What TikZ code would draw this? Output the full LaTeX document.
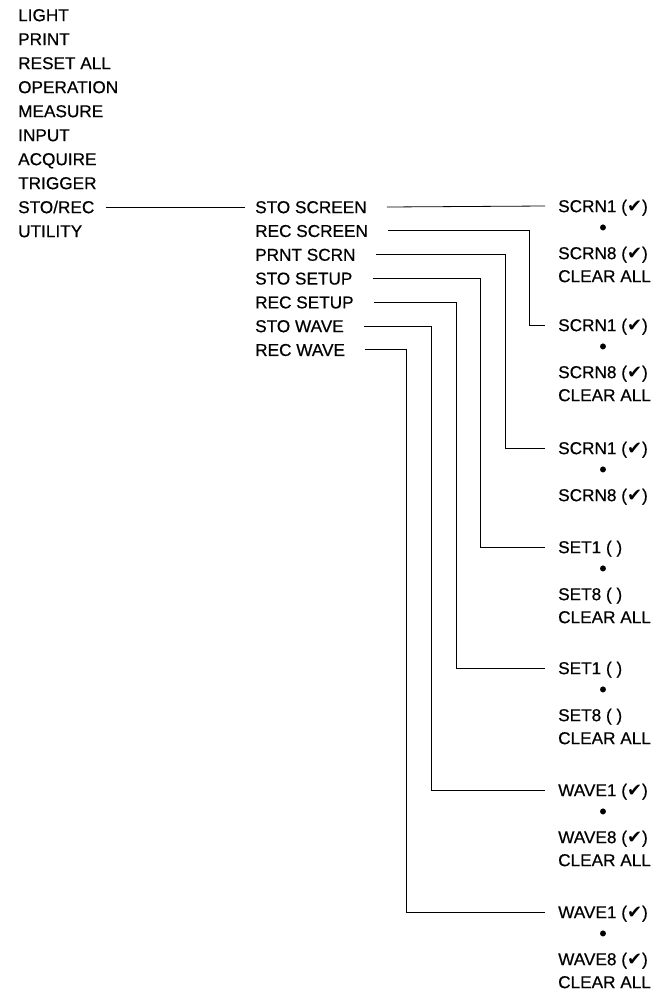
\documentclass[tikz,border=0pt]{standalone}
\usepackage{fontspec}
\setmainfont{Liberation Sans}
\newfontfamily\menufont[FakeBold=0.5]{Liberation Sans}
\newfontfamily\symfont{DejaVu Sans}
\usetikzlibrary{calc}
\newcommand{\chk}{({\symfont\fontsize{18}{18}\selectfont\char"2714})}

\begin{document}
\begin{tikzpicture}[x=1pt,y=-1pt,
    lbl/.style={anchor=west,inner sep=0pt,text height=12.3pt,text depth=0pt,font=\menufont\fontsize{17.2}{20}\selectfont},
    dot/.style={inner sep=0pt,font=\menufont\fontsize{21}{21}\selectfont},
    wire/.style={line width=0.8pt}]
  \useasboundingbox (0,0) rectangle (670,994);
  % Hauptmenue
  \foreach \t [count=\i] in {LIGHT,PRINT,RESET ALL,OPERATION,MEASURE,INPUT,ACQUIRE,TRIGGER,STO/REC,UTILITY}
    \node[lbl] (m\i) at (18,{15+24*(\i-1)}) {\t};
  % Untermenue STO/REC
  \foreach \t [count=\j] in {STO SCREEN,REC SCREEN,PRNT SCRN,STO SETUP,REC SETUP,STO WAVE,REC WAVE}
    \node[lbl] (s\j) at (255,{207+23.8*(\j-1)}) {\t};
  % Speicherplaetze
  \foreach \y/\a/\b/\c [count=\k] in {206/SCRN1 \chk/SCRN8 \chk/1,325/SCRN1 \chk/SCRN8 \chk/1,448/SCRN1 \chk/SCRN8 \chk/0,
      547/SET1 ( )/SET8 ( )/1,668/SET1 ( )/SET8 ( )/1,790/WAVE1 \chk/WAVE8 \chk/1,912/WAVE1 \chk/WAVE8 \chk/1}{
    \node[lbl] (a\k) at (558,\y) {\a};
    \node[dot] (b\k) at (603,{\y+23.5}) {•};
    \node[lbl] (c\k) at (558,{\y+47}) {\b};
    \ifnum\c=1 \node[lbl] (d\k) at (558,{\y+70}) {CLEAR ALL}; \fi
  }
  % Verbindungen
  \draw[wire] ([xshift=11pt]m9.east) -- ([xshift=-10pt]s1.west);
  \draw[wire] ([xshift=20pt]s1.east) -- ([xshift=-13pt]a1.west);
  \foreach \j/\vx in {2/529,3/505,4/480,5/456,6/431,7/406}{
    \coordinate (v\j) at (\vx,0);
    \draw[wire] ([xshift=20pt]s\j.east) -| (a\j.west -| v\j) -- ([xshift=-13pt]a\j.west);
  }
\end{tikzpicture}
\end{document}
